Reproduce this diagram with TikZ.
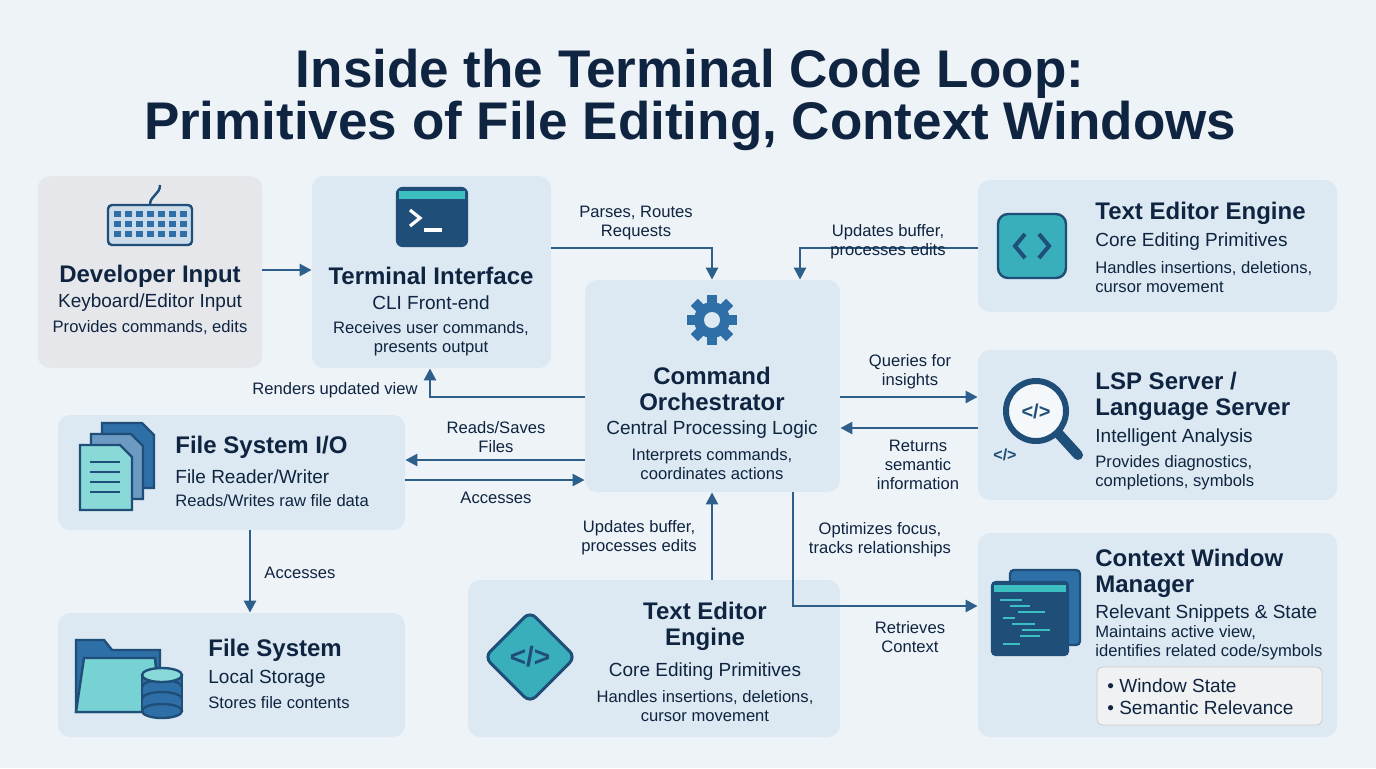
\documentclass[tikz,border=0pt]{standalone}
\usepackage{fontspec}
\setmainfont{Liberation Sans}
\usetikzlibrary{arrows.meta,shapes.geometric}
\definecolor{bg}{HTML}{EEF3F8}
\definecolor{boxc}{HTML}{DCE9F2}
\definecolor{grayc}{HTML}{E5E7EB}
\definecolor{ink}{HTML}{0F2440}
\definecolor{arr}{HTML}{2E5F8A}
\definecolor{icd}{HTML}{1F4E79}
\definecolor{icm}{HTML}{2F6FA8}
\definecolor{teal}{HTML}{3BBFC0}
\begin{document}
\begin{tikzpicture}[x=0.5pt,y=-0.5pt,
 box/.style={draw=none,fill=boxc,rounded corners=6pt,inner sep=0},
 ttl/.style={font=\fontsize{12}{13}\selectfont\bfseries,text=ink,inner sep=0},
 sub/.style={font=\fontsize{9.5}{11}\selectfont,text=ink,inner sep=0},
 bod/.style={font=\fontsize{8.3}{9.5}\selectfont,text=ink,inner sep=0},
 lab/.style={font=\fontsize{8.3}{9.5}\selectfont,text=ink,inner sep=0,align=center},
 ar/.style={draw=arr,line width=1.3pt,-{Triangle[length=6pt,width=6pt]}},
 ic/.style={draw=icd,line width=1.2pt}]
\fill[bg] (0,0) rectangle (1376,768);
\useasboundingbox (0,0) rectangle (1376,768);
\node[font=\fontsize{26.5}{26}\selectfont\bfseries,text=ink,align=center] (title) at (690,100) {Inside the Terminal Code Loop:\\Primitives of File Editing, Context Windows};
% boxes
\node[box,fill=grayc,minimum width=112pt,minimum height=96pt] (dev) at (150,272) {};
\node[box,minimum width=119.5pt,minimum height=96pt] (term) at (431.5,272) {};
\node[box,minimum width=179.5pt,minimum height=66pt] (tee) at (1157.5,246) {};
\node[box,minimum width=127.5pt,minimum height=106pt] (orch) at (712.5,386) {};
\node[box,minimum width=179.5pt,minimum height=75pt] (lsp) at (1157.5,425) {};
\node[box,minimum width=173.5pt,minimum height=57.5pt] (fio) at (231.5,472.5) {};
\node[box,minimum width=173.5pt,minimum height=62pt] (fs) at (231.5,675) {};
\node[box,minimum width=186pt,minimum height=78.5pt] (teb) at (654,658.5) {};
\node[box,minimum width=179.5pt,minimum height=102pt] (cwm) at (1157.5,635) {};
\node[draw=gray!40,fill=grayc!60,rounded corners=3pt,minimum width=112.5pt,minimum height=29pt,inner sep=0] (lst) at (1209.5,696) {};
% dev icon keyboard
\draw[ic,fill=icm!25,rounded corners=2pt] (108,205) rectangle (192,245);
\foreach \r in {0,1,2}{\foreach \c in {0,...,6}{\fill[icm] (114+\c*11,211+\r*10) rectangle (121+\c*11,217+\r*10);}}
\draw[ic] (150,205) .. controls (150,195) and (160,195) .. (160,185);
\node[ttl] at (150,276) {Developer Input};
\node[sub] at (150,303) {Keyboard/Editor Input};
\node[bod] at (150,328) {Provides commands, edits};
% terminal icon
\draw[ic,fill=icd,rounded corners=3pt] (397,188) rectangle (467,246);
\fill[teal] (399,191) rectangle (465,199);
\draw[white,line width=1.6pt] (410,210)--(420,218)--(410,226);
\draw[white,line width=1.6pt] (424,230)--(442,230);
\node[ttl] at (431,276) {Terminal Interface};
\node[sub] at (431,303) {CLI Front-end};
\node[bod,align=center] at (431,339) {Receives user commands,\\presents output};
% top text editor
\draw[ic,fill=teal!80!icm,rounded corners=5pt] (998,214) rectangle (1066,278);
\draw[icd,line width=2pt] (1025,234)--(1015,246)--(1025,258) (1039,234)--(1049,246)--(1039,258);
\node[ttl,anchor=west] at (1095,213) {Text Editor Engine};
\node[sub,anchor=west] at (1095,242) {Core Editing Primitives};
\node[bod,anchor=west,align=left] at (1095,277) {Handles insertions, deletions,\\cursor movement};
% orchestrator gear
\begin{scope}[shift={(712,320)}]
\foreach \a in {0,45,...,315}{\fill[icm,rotate=\a] (-5,-25) rectangle (5,-14);}
\fill[icm] (0,0) circle (18);
\fill[boxc] (0,0) circle (8);
\end{scope}
\node[ttl,align=center] at (712,389) {Command\\Orchestrator};
\node[sub] at (712,430) {Central Processing Logic};
\node[bod,align=center] at (712,464) {Interprets commands,\\coordinates actions};
% LSP icon
\draw[icd,line width=5pt,line cap=round] (1058,433)--(1078,455);
\draw[ic,line width=3pt,fill=white!70!boxc] (1036,411) circle (30);
\node[font=\fontsize{10}{10}\selectfont\bfseries,text=icd] at (1036,411) {</>};
\node[font=\fontsize{8}{8}\selectfont\bfseries,text=icd] at (1005,455) {</>};
\node[ttl,anchor=west,align=left] at (1095,396) {LSP Server /\\Language Server};
\node[sub,anchor=west] at (1095,438) {Intelligent Analysis};
\node[bod,anchor=west,align=left] at (1095,473) {Provides diagnostics,\\completions, symbols};
% file io icon
\foreach \dx/\col in {22/icm,11/icm!70,0/teal!60}{
\draw[ic,fill=\col] (80+\dx,445-\dx) -- (120+\dx,445-\dx) -- (132+\dx,457-\dx) -- (132+\dx,510-\dx) -- (80+\dx,510-\dx) -- cycle;}
\foreach \y in {462,472,482,492}{\draw[icd,line width=1pt] (90,\y)--(120,\y);}
\node[ttl,anchor=west] at (175,447) {File System I/O};
\node[sub,anchor=west] at (175,477) {File Reader/Writer};
\node[bod,anchor=west] at (175,501) {Reads/Writes raw file data};
% file system icon
\draw[ic,fill=icm] (76,640) -- (76,712) -- (160,712) -- (160,650) -- (112,650) -- (104,640) -- cycle;
\draw[ic,fill=teal!70] (84,658) -- (155,658) -- (160,712) -- (76,712) -- cycle;
\begin{scope}[shift={(162,675)}]
\draw[ic,fill=icm] (-20,0) rectangle (20,36);
\draw[ic,fill=icm] (0,36) ellipse (20 and 7);
\draw[ic,fill=icm] (-20,12) arc(180:360:20 and 7);
\draw[ic] (-20,24) arc(180:360:20 and 7);
\draw[ic,fill=teal!60] (0,0) ellipse (20 and 7);
\end{scope}
\node[ttl,anchor=west] at (208,650) {File System};
\node[sub,anchor=west] at (208,679) {Local Storage};
\node[bod,anchor=west] at (208,703) {Stores file contents};
% bottom text editor
\node[draw=icd,line width=1.5pt,fill=teal!80!icm,diamond,minimum width=46pt,minimum height=46pt,rounded corners=4pt] (dia) at (530,657) {};
\node[font=\fontsize{14}{14}\selectfont\bfseries,text=icd] at (530,657) {</>};
\node[ttl,align=center] at (705,626) {Text Editor\\Engine};
\node[sub] at (705,672) {Core Editing Primitives};
\node[bod,align=center] at (705,706) {Handles insertions, deletions,\\cursor movement};
% context window icon
\draw[ic,fill=icm,rounded corners=2pt] (1010,570) rectangle (1080,645);
\draw[ic,fill=icd,rounded corners=2pt] (992,582) rectangle (1068,655);
\fill[teal] (994,585) rectangle (1066,592);
\foreach \y/\a/\b in {600/1000/1022,606/1010/1030,612/1018/1045,618/1003/1015,624/1012/1035,630/1022/1050,636/1020/1040,644/1003/1020}{\draw[teal,line width=1pt] (\a,\y)--(\b,\y);}
\node[ttl,anchor=west,align=left] at (1095,573) {Context Window\\Manager};
\node[sub,anchor=west] at (1095,614) {Relevant Snippets \& State};
\node[bod,anchor=west,align=left] at (1095,643) {Maintains active view,\\identifies related code/symbols};
\node[sub,anchor=west,align=left] at (1107,697) {• Window State\\• Semantic Relevance};
% arrows
\draw[ar] (dev.east|-0,270) -- (term.west|-0,270);
\draw[ar] (term.east|-0,248) -- (712,248) -- (orch.north-|712,0);
\node[lab] at (636,223) {Parses, Routes\\Requests};
\draw[ar] (tee.west|-0,248) -- (800,248) -- (orch.north-|800,0);
\node[lab] at (888,242) {Updates buffer,\\processes edits};
\draw[ar] (orch.west|-0,397) -- (430,397) -- (term.south-|430,0);
\node[lab] at (335,390) {Renders updated view};
\draw[ar] (orch.east|-0,397) -- (lsp.west|-0,397);
\node[lab] at (910,372) {Queries for\\insights};
\draw[ar] (lsp.west|-0,428) -- (orch.east|-0,428);
\node[lab] at (918,465) {Returns\\semantic\\information};
\draw[ar] (orch.west|-0,460) -- (fio.east|-0,460);
\node[lab] at (496,437) {Reads/Saves\\Files};
\draw[ar] (fio.east|-0,480) -- (orch.west|-0,480);
\node[lab] at (496,498) {Accesses};
\draw[ar] (teb.north-|712,0) -- (orch.south-|712,0);
\node[lab] at (639,538) {Updates buffer,\\processes edits};
\draw[ar] (orch.south-|793,0) -- (793,606) -- (cwm.west|-0,606);
\node[lab] at (880,540) {Optimizes focus,\\tracks relationships};
\node[lab] at (910,637) {Retrieves\\Context};
\draw[ar] (fio.south-|250,0) -- (fs.north-|250,0);
\node[lab] at (300,573) {Accesses};
\end{tikzpicture}
\end{document}
